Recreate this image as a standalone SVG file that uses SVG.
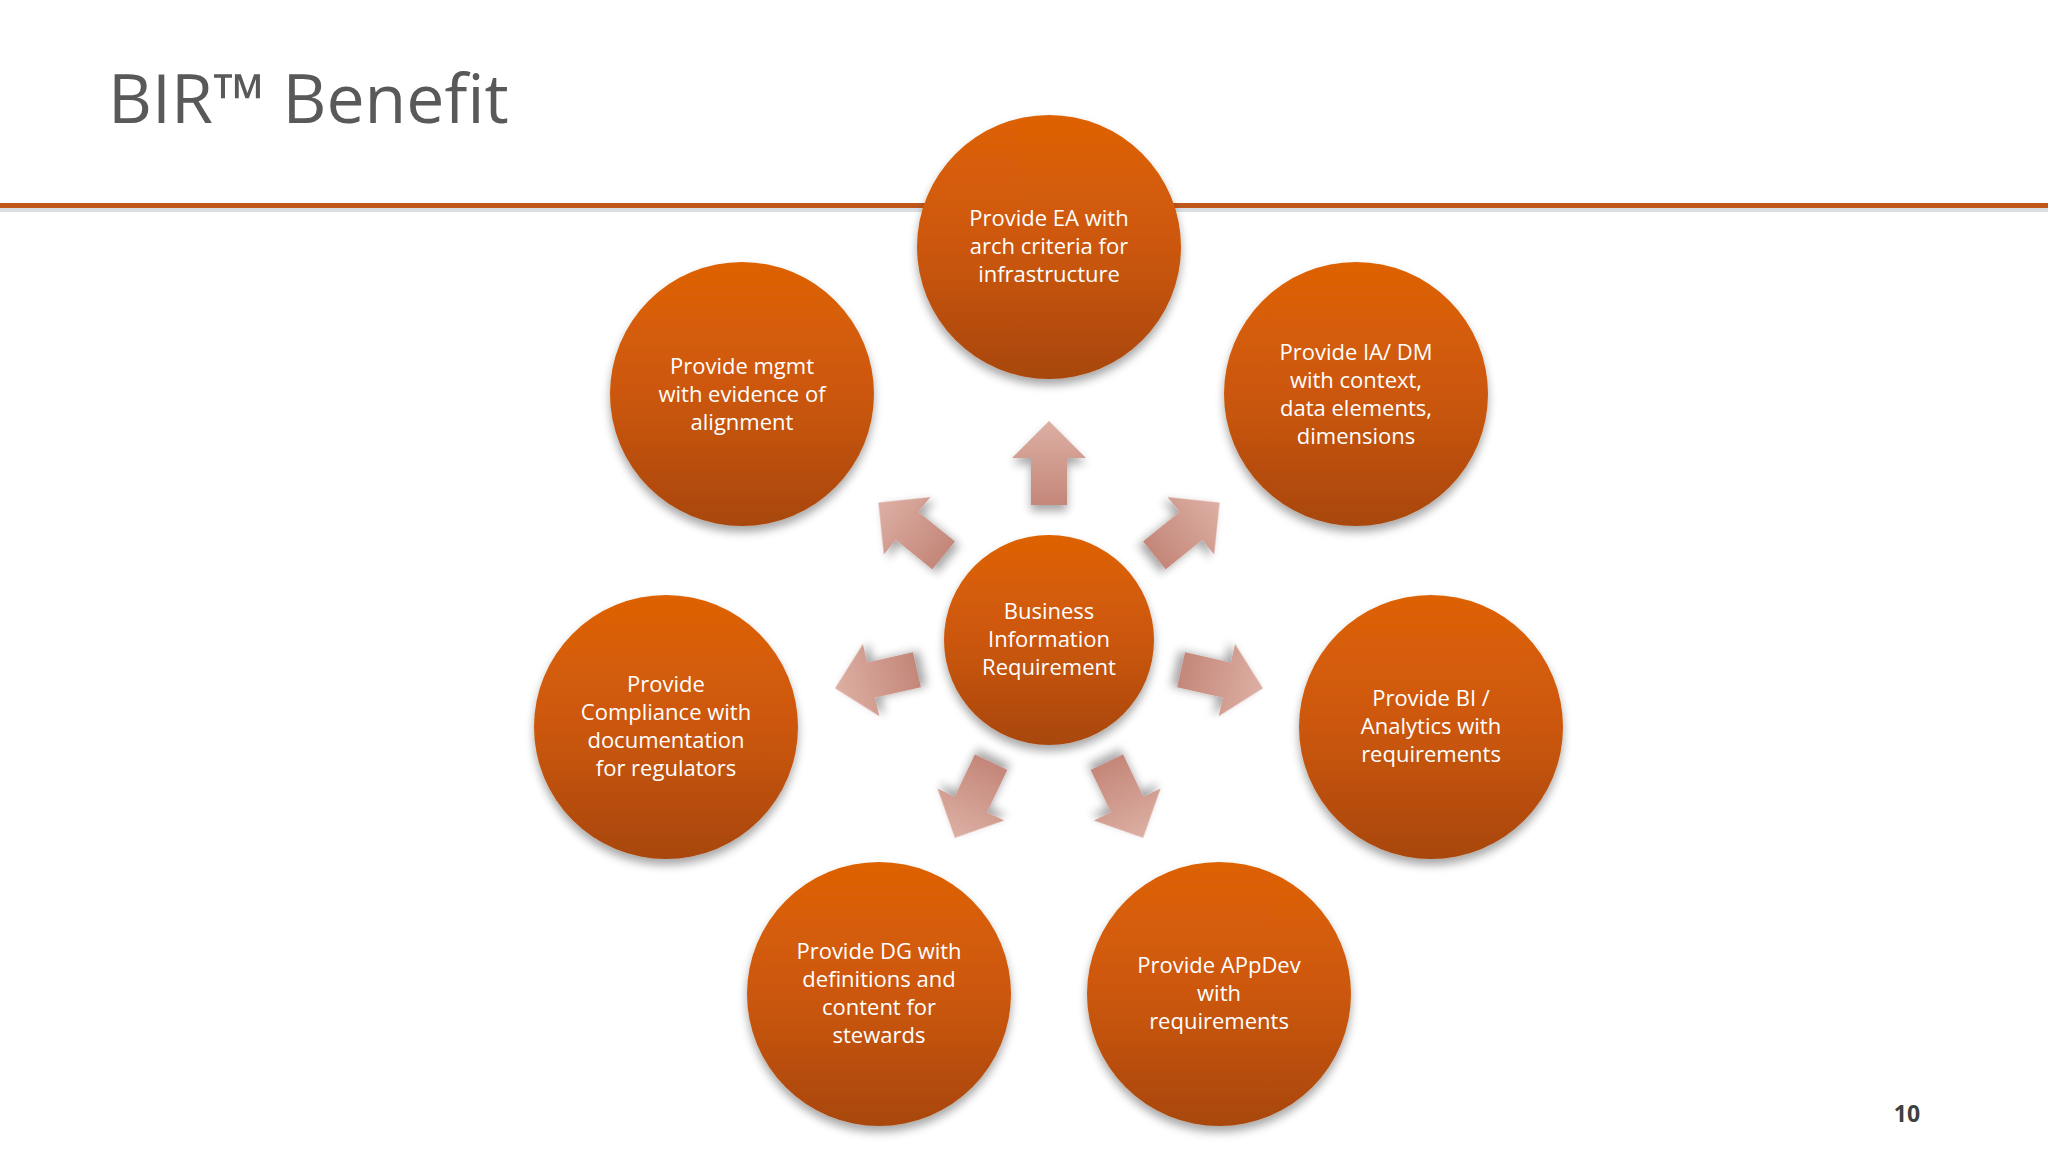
<svg xmlns="http://www.w3.org/2000/svg" width="2048" height="1152" viewBox="0 0 2048 1152">
<defs>
<linearGradient id="cg" x1="0" y1="0" x2="0" y2="1"><stop offset="0" stop-color="#DE6206"/><stop offset="0.5" stop-color="#CC5708"/><stop offset="1" stop-color="#A8470C"/></linearGradient>
<linearGradient id="ag" x1="0" y1="0" x2="0" y2="1"><stop offset="0" stop-color="#DDAFA4"/><stop offset="1" stop-color="#C4877A"/></linearGradient>
<filter id="sh" x="-20%" y="-20%" width="140%" height="150%"><feGaussianBlur in="SourceAlpha" stdDeviation="5"/><feOffset dy="6"/><feComponentTransfer><feFuncA type="linear" slope="0.35"/></feComponentTransfer><feMerge><feMergeNode/><feMergeNode in="SourceGraphic"/></feMerge></filter>
<path id="arr" d="M0,-42 L37,-5 L18,-5 L18,42 L-18,42 L-18,-5 L-37,-5 Z"/>
</defs>
<style>
.c{fill:url(#cg);filter:url(#sh)}
.t{font-family:"Open Sans","Noto Sans",sans-serif;font-size:22px;fill:#fff;text-anchor:middle}
.a{fill:url(#ag);filter:url(#sh)}
</style>
<rect width="2048" height="1152" fill="#fff"/>
<text x="108" y="123" font-family="Open Sans, sans-serif" font-size="68" fill="#595959">BIR™ Benefit</text>
<rect x="0" y="208" width="2048" height="4" fill="#D9DEE3"/>
<rect x="0" y="203" width="2048" height="5" fill="#C0561A"/>
<g id="connectors">
<use href="#arr" class="a" transform="translate(1049,463)"/>
<use href="#arr" class="a" transform="translate(1187,529) rotate(51)"/>
<use href="#arr" class="a" transform="translate(1222,679) rotate(102.8)"/>
<use href="#arr" class="a" transform="translate(1125,800) rotate(154.4)"/>
<use href="#arr" class="a" transform="translate(973,800) rotate(-154.4)"/>
<use href="#arr" class="a" transform="translate(876,679) rotate(-102.8)"/>
<use href="#arr" class="a" transform="translate(911,529) rotate(-51)"/>
</g>
<g id="center"><circle class="c" cx="1049" cy="640" r="105"/><text class="t"><tspan x="1049" y="619">Business</tspan><tspan x="1049" y="647">Information</tspan><tspan x="1049" y="675">Requirement</tspan></text></g>
<g id="top"><circle class="c" cx="1049" cy="247" r="132"/><text class="t"><tspan x="1049" y="226">Provide EA with</tspan><tspan x="1049" y="254">arch criteria for</tspan><tspan x="1049" y="282">infrastructure</tspan></text></g>
<g id="topright"><circle class="c" cx="1356" cy="394" r="132"/><text class="t"><tspan x="1356" y="360">Provide IA/ DM</tspan><tspan x="1356" y="388">with context,</tspan><tspan x="1356" y="416">data elements,</tspan><tspan x="1356" y="444">dimensions</tspan></text></g>
<g id="right"><circle class="c" cx="1431" cy="727" r="132"/><text class="t"><tspan x="1431" y="706">Provide BI /</tspan><tspan x="1431" y="734">Analytics with</tspan><tspan x="1431" y="762">requirements</tspan></text></g>
<g id="bottomright"><circle class="c" cx="1219" cy="994" r="132"/><text class="t"><tspan x="1219" y="973">Provide APpDev</tspan><tspan x="1219" y="1001">with</tspan><tspan x="1219" y="1029">requirements</tspan></text></g>
<g id="bottomleft"><circle class="c" cx="879" cy="994" r="132"/><text class="t"><tspan x="879" y="959">Provide DG with</tspan><tspan x="879" y="987">definitions and</tspan><tspan x="879" y="1015">content for</tspan><tspan x="879" y="1043">stewards</tspan></text></g>
<g id="left"><circle class="c" cx="666" cy="727" r="132"/><text class="t"><tspan x="666" y="692">Provide</tspan><tspan x="666" y="720">Compliance with</tspan><tspan x="666" y="748">documentation</tspan><tspan x="666" y="776">for regulators</tspan></text></g>
<g id="topleft"><circle class="c" cx="742" cy="394" r="132"/><text class="t"><tspan x="742" y="374">Provide mgmt</tspan><tspan x="742" y="402">with evidence of</tspan><tspan x="742" y="430">alignment</tspan></text></g>
<text x="1907" y="1122" font-family="Open Sans, sans-serif" font-size="23" font-weight="bold" fill="#404040" text-anchor="middle">10</text>
</svg>
